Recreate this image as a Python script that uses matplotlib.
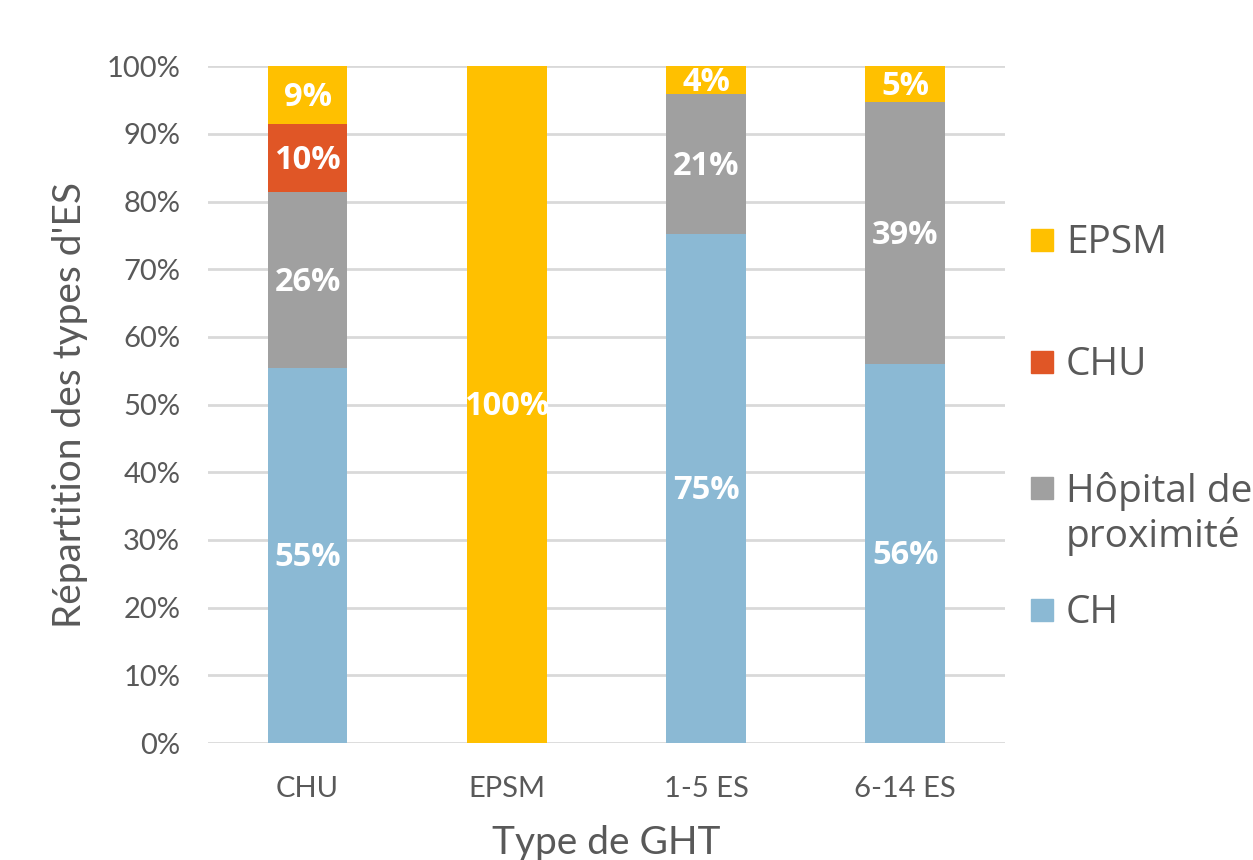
import matplotlib.pyplot as plt
from matplotlib.patches import Rectangle
import numpy as np

# data (% of establishments per GHT type)
categories = ['CHU', 'EPSM', '1-5 ES', '6-14 ES']
series = ['CH', 'Hôpital de\nproximité', 'CHU', 'EPSM']
ch = [55.4, 0.0, 75.2, 56.0]
hopital = [26.0, 0.0, 20.7, 38.7]
chu = [10.0, 0.0, 0.0, 0.0]
epsm = [8.6, 100.0, 4.1, 5.3]
values = [ch, hopital, chu, epsm]
colors = ['#8BB9D4', '#A0A0A0', '#E05626', '#FFC000']

txt = '#595959'
fig = plt.figure(figsize=(12.53, 8.60), dpi=100)
ax = fig.add_axes([0.166, 0.136, 0.636, 0.787])

x = np.arange(len(categories))
bottom = np.zeros(len(categories))
for vals, col in zip(values, colors):
    vals = np.array(vals)
    ax.bar(x, vals, 0.4, bottom=bottom, color=col, zorder=3)
    for xi, v, b in zip(x, vals, bottom):
        if v > 0:
            ax.text(xi, b + v / 2 - 0.3, f'{v:.0f}%', ha='center', va='center',
                    color='white', fontsize=23.5, fontweight='bold',
                    family='Open Sans', zorder=4)
    bottom += vals

ax.set_xlim(-0.5, 3.5)
ax.set_ylim(0, 100)
ax.set_yticks(np.arange(0, 101, 10))
ax.set_yticklabels([f'{t}%' for t in range(0, 101, 10)])
ax.set_xticks(x)
ax.set_xticklabels(categories)
ax.tick_params(length=0, labelsize=21, colors=txt)
ax.tick_params(axis='y', pad=20)
ax.tick_params(axis='x', pad=24)
for lab in ax.get_xticklabels() + ax.get_yticklabels():
    lab.set_family('Lato')
ax.grid(axis='y', color='#D9D9D9', linewidth=2, zorder=0)
for s in ax.spines.values():
    s.set_visible(False)

ax.set_ylabel("Répartition des types d'ES", fontsize=28, color=txt, family='Lato', labelpad=13)
ax.set_xlabel('Type de GHT', fontsize=28, color=txt, family='Lato', labelpad=16)

# legend drawn by hand (top to bottom)
W, H = 1253, 860
leg_y = [240, 362, 488, 610]
for yy, name, col in zip(leg_y, series[::-1], colors[::-1]):
    fig.patches.append(Rectangle((1031 / W, 1 - (yy + 11) / H), 22 / W, 22 / H,
                                 transform=fig.transFigure, color=col))
    fig.text(1066 / W, 1 - (yy - 16) / H, name, fontsize=28, color=txt,
             family='Open Sans', va='top', ha='left', linespacing=1.2)

fig.savefig('out.png', dpi=100)
